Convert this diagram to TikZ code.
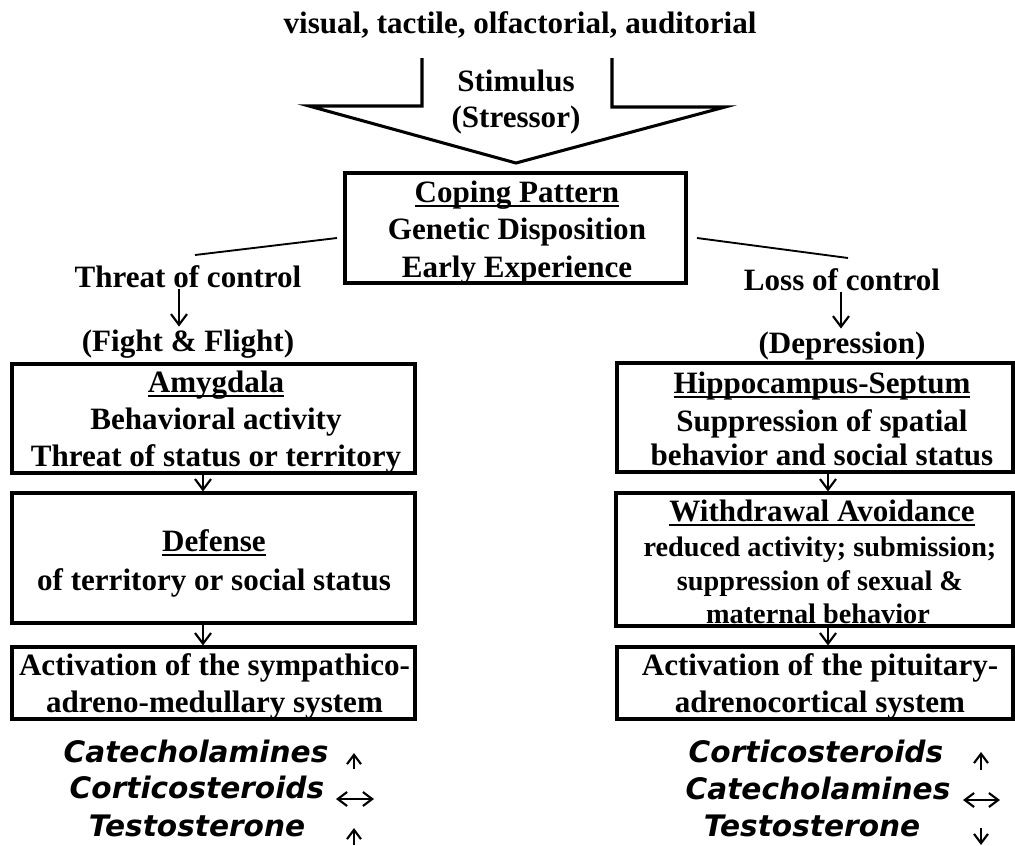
\documentclass[tikz,border=0pt]{standalone}
\usepackage{fontspec}
\setmainfont{Liberation Serif}
\newfontfamily\hormfont{DejaVu Sans}
\usetikzlibrary{arrows.meta,fit}
\newcommand\myul[1]{\setbox0\hbox{#1}\rlap{\rule[-4pt]{\wd0}{1.6pt}}\box0}
\tikzset{
  lbl/.style={anchor=base, inner sep=0pt, font=\fontsize{23.3}{28}\selectfont\bfseries},
  smalllbl/.style={anchor=base, inner sep=0pt, font=\fontsize{21.2}{25}\selectfont\bfseries},
  horm/.style={anchor=base, inner sep=0pt, font=\hormfont\fontsize{22.2}{26}\selectfont\bfseries\itshape},
  boxst/.style={draw, line width=2.3pt, inner sep=0pt},
  conn/.style={line width=1.5pt, -{Straight Barb[length=8pt,width=12pt,line width=1.6pt]}},
  tinyarr/.style={line width=1.6pt, -{Straight Barb[length=7pt,width=10.5pt,line width=1.6pt]}},
  tinydbl/.style={line width=1.6pt, {Straight Barb[length=7pt,width=10.5pt,line width=1.6pt]}-{Straight Barb[length=7pt,width=10.5pt,line width=1.6pt]}},
  thinline/.style={line width=1.4pt},
}
\begin{document}
\begin{tikzpicture}[x=0.75pt,y=-0.75pt]
\useasboundingbox (0,0) rectangle (1015,846);

% top
\node[lbl] (src) at (520,33) {visual, tactile, olfactorial, auditorial};
\draw[line width=2.3pt, line join=miter] (422,58) -- (422,106) -- (309,106) -- (516,163) -- (725,107) -- (612,107) -- (612,58);
\node[lbl] (stim) at (516,91) {Stimulus};
\node[lbl] (stress) at (516,127) {(Stressor)};

% coping box
\node[boxst, fit={(345,173) (686,283)}] (coping) {};
\node[lbl] (cp1) at (517,202) {\myul{Coping Pattern}};
\node[lbl] (cp2) at (517,239.5) {Genetic Disposition};
\node[lbl] (cp3) at (517,277) {Early Experience};

\coordinate (tla) at (195,255);
\coordinate (tlb) at (337,238);
\coordinate (tra) at (697,238);
\coordinate (trb) at (848,258);
\draw[thinline] (tla) -- (tlb);
\draw[thinline] (tra) -- (trb);

% branch labels
\node[lbl] (threat) at (188,287) {Threat of control};
\node[lbl] (fight) at (188,351) {(Fight \& Flight)};
\node[lbl] (loss) at (842,290) {Loss of control};
\node[lbl] (depr) at (842,353) {(Depression)};
\coordinate (ta) at (179,0);
\coordinate (tb) at (841,0);
\draw[conn, shorten <=1pt, shorten >=2pt] (threat.south -| ta) -- (fight.north -| ta);
\draw[conn, shorten <=1pt, shorten >=2pt] (loss.south -| tb) -- (depr.north -| tb);

% left column
\node[boxst, fit={(12,364) (415,473)}] (amyg) {};
\node[lbl] (a1) at (216,392) {\myul{Amygdala}};
\node[lbl] (a2) at (216,429) {Behavioral activity};
\node[lbl] (a3) at (216,466) {Threat of status or territory};

\node[boxst, fit={(12,493) (415,623)}] (def) {};
\node[lbl] (d1) at (214,551) {\myul{Defense}};
\node[lbl] (d2) at (214,590) {of territory or social status};

\node[boxst, fit={(12,647) (415,719)}] (actl) {};
\node[lbl] (l1) at (214.5,675) {Activation of the sympathico-};
\node[lbl] (l2) at (214.5,712) {adreno-medullary system};

\coordinate (la) at (203,0);
\draw[conn] (amyg.south -| la) -- (def.north -| la);
\draw[conn] (def.south -| la) -- (actl.north -| la);

% right column
\node[boxst, fit={(617,363) (1013,472)}] (hippo) {};
\node[lbl] (h1) at (822,393) {\myul{Hippocampus-Septum}};
\node[lbl] (h2) at (822,431) {Suppression of spatial};
\node[lbl] (h3) at (822,465) {behavior and social status};

\node[boxst, fit={(616,493) (1013,626)}] (withd) {};
\node[lbl] (w1) at (822,521) {\myul{Withdrawal Avoidance}};
\node[smalllbl] (w2) at (820,556) {reduced activity; submission;};
\node[smalllbl] (w3) at (820,590) {suppression of sexual \&};
\node[smalllbl] (w4) at (818,623) {maternal behavior};

\node[boxst, fit={(617,647) (1013,719)}] (actr) {};
\node[lbl] (r1) at (820,675) {Activation of the pituitary-};
\node[lbl] (r2) at (820,712) {adrenocortical system};

\coordinate (ra) at (828,0);
\draw[conn] (hippo.south -| ra) -- (withd.north -| ra);
\draw[conn] (withd.south -| ra) -- (actr.north -| ra);

% hormones left
\node[horm] (hl1) at (196,762) {Catecholamines};
\node[horm] (hl2) at (197,798) {Corticosteroids};
\node[horm] (hl3) at (197,836) {Testosterone};
\coordinate (al1a) at (354,769); \coordinate (al1b) at (354,753);
\coordinate (al2a) at (336,799); \coordinate (al2b) at (374,799);
\coordinate (al3a) at (354,845); \coordinate (al3b) at (354,828);
\draw[tinyarr] (al1a) -- (al1b);
\draw[tinydbl] (al2a) -- (al2b);
\draw[tinyarr] (al3a) -- (al3b);

% hormones right
\node[horm] (hr1) at (816,762) {Corticosteroids};
\node[horm] (hr2) at (818,799) {Catecholamines};
\node[horm] (hr3) at (812,836) {Testosterone};
\coordinate (ar1a) at (981,770); \coordinate (ar1b) at (981,752);
\coordinate (ar2a) at (963,800); \coordinate (ar2b) at (1000,800);
\coordinate (ar3a) at (981,828); \coordinate (ar3b) at (981,845);
\draw[tinyarr] (ar1a) -- (ar1b);
\draw[tinydbl] (ar2a) -- (ar2b);
\draw[tinyarr] (ar3a) -- (ar3b);
\end{tikzpicture}
\end{document}
